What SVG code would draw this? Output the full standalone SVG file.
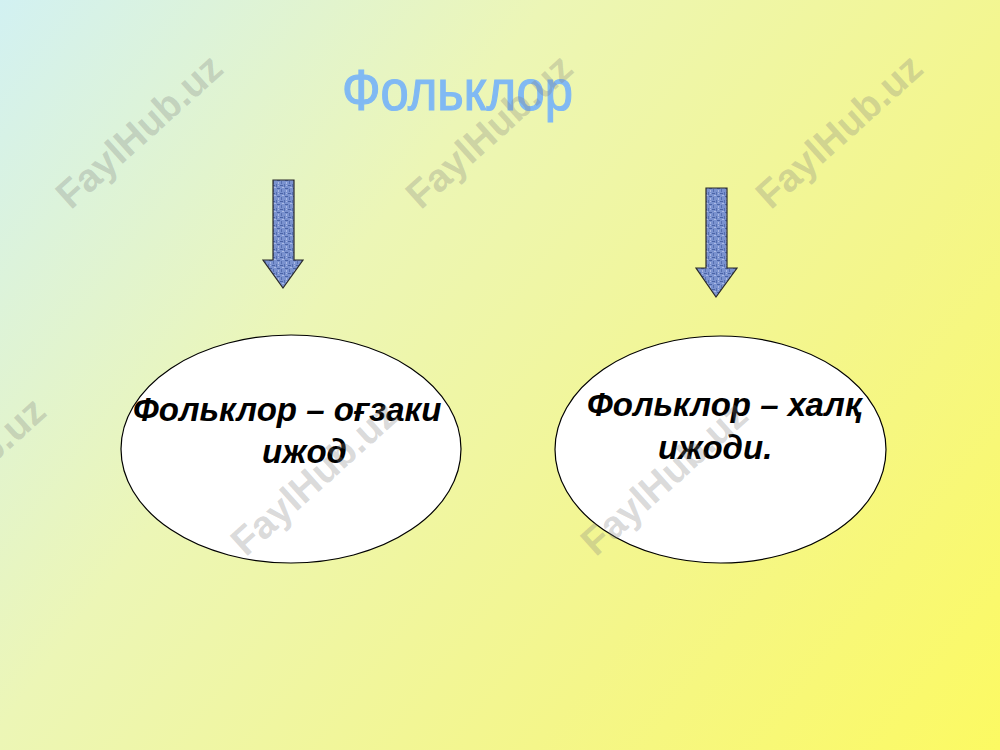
<svg xmlns="http://www.w3.org/2000/svg" width="1000" height="750" viewBox="0 0 1000 750">
  <defs>
    <linearGradient id="bg" x1="0" y1="0" x2="1000" y2="750" gradientUnits="userSpaceOnUse">
      <stop offset="0" stop-color="#d2f1f2"/>
      <stop offset="0.35" stop-color="#ecf6b6"/>
      <stop offset="0.7" stop-color="#f4f68a"/>
      <stop offset="1" stop-color="#fcfa62"/>
    </linearGradient>
    <pattern id="tex" width="8" height="8" patternUnits="userSpaceOnUse">
      <rect width="8" height="8" fill="#7a92cf"/>
      <rect x="0" y="1" width="3" height="1" fill="#4a63a5"/>
      <rect x="4" y="0" width="1" height="3" fill="#566fb0"/>
      <rect x="5" y="4" width="3" height="1" fill="#4a63a5"/>
      <rect x="1" y="5" width="1" height="3" fill="#566fb0"/>
      <rect x="2" y="3" width="2" height="1" fill="#aab9e4"/>
      <rect x="6" y="6" width="1" height="2" fill="#aab9e4"/>
      <rect x="6" y="1" width="1" height="1" fill="#aab9e4"/>
    </pattern>
    <style>
      .wm { font-family: "Liberation Sans", Arial, sans-serif; font-weight: bold; font-size: 39px; fill: #808080; fill-opacity: 0.3; }
      .node-shape { fill: #ffffff; stroke: #000000; stroke-width: 1.2; }
      .node-text { font-family: "Liberation Sans", Arial, sans-serif; font-weight: bold; font-style: italic; font-size: 33px; fill: #000000; }
      .block-arrow { fill: url(#tex); stroke: #2a2a2a; stroke-width: 1.2; stroke-linejoin: miter; }
    </style>
  </defs>

  <rect width="1000" height="750" fill="url(#bg)"/>

  <g id="title">
    <text x="342" y="110" textLength="231" lengthAdjust="spacingAndGlyphs" font-family="Liberation Sans, Arial, sans-serif" font-size="57" fill="#80b9f3" stroke="#80b9f3" stroke-width="1.2">Фольклор</text>
  </g>

  <g id="connectors">
    <path class="block-arrow" d="M273,180 L294,180 L294,260 L303,260 L283,288 L263,260 L273,260 Z"/>
    <path class="block-arrow" d="M706,188 L727,188 L727,268 L737,268 L716,297 L696,268 L706,268 Z"/>
  </g>

  <g id="node-oral">
    <ellipse class="node-shape" cx="291" cy="449" rx="170" ry="114"/>
    <text class="node-text" x="133" y="421">Фольклор – оғзаки</text>
    <text class="node-text" x="262" y="463">ижод</text>
  </g>

  <g id="node-folk">
    <ellipse class="node-shape" cx="720.5" cy="449.5" rx="165.5" ry="113.5"/>
    <text class="node-text" x="587" y="416">Фольклор – халқ</text>
    <text class="node-text" x="658" y="459">ижоди.</text>
  </g>

  <g id="watermarks">
    <text class="wm" text-anchor="middle" transform="translate(148,141) rotate(-42)">FaylHub.uz</text>
    <text class="wm" text-anchor="middle" transform="translate(498,141) rotate(-42)">FaylHub.uz</text>
    <text class="wm" text-anchor="middle" transform="translate(848,141) rotate(-42)">FaylHub.uz</text>
    <text class="wm" text-anchor="middle" transform="translate(-29,484) rotate(-42)">FaylHub.uz</text>
    <text class="wm" text-anchor="middle" transform="translate(323,488) rotate(-42)">FaylHub.uz</text>
    <text class="wm" text-anchor="middle" transform="translate(673,488) rotate(-42)">FaylHub.uz</text>
  </g>
</svg>
